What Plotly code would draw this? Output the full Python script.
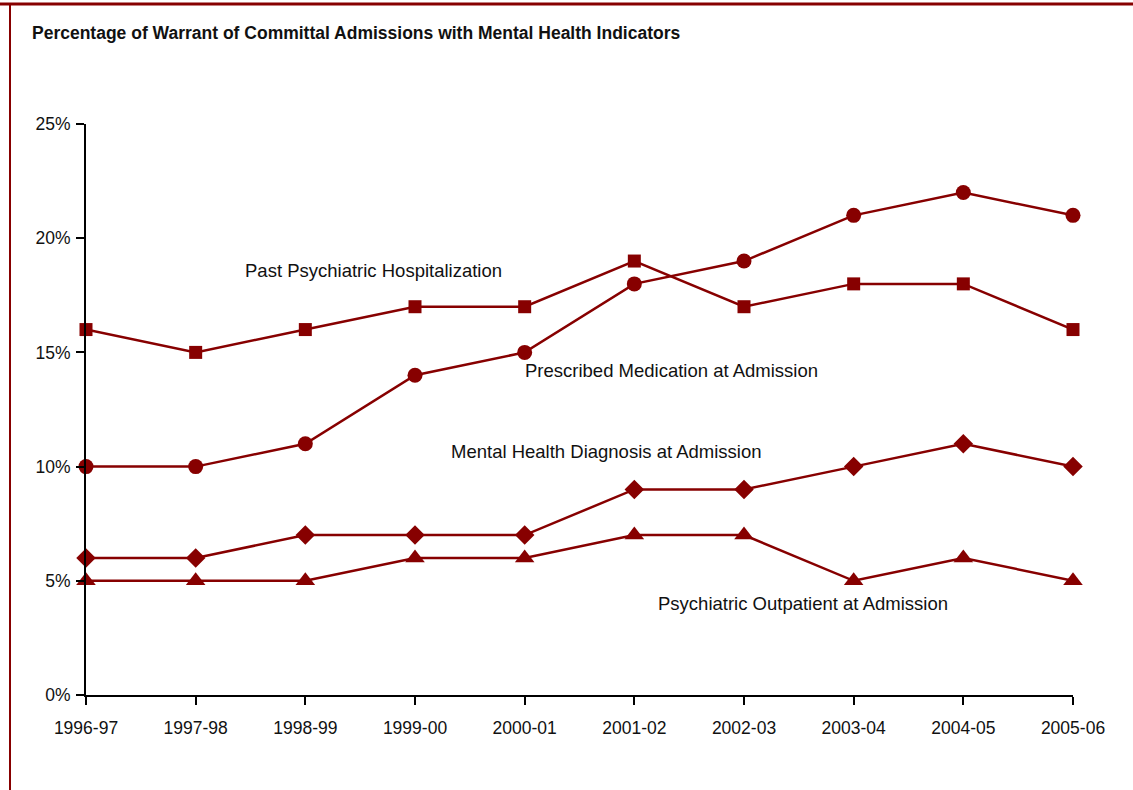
import plotly.graph_objects as go

years = ["1996-97", "1997-98", "1998-99", "1999-00", "2000-01",
         "2001-02", "2002-03", "2003-04", "2004-05", "2005-06"]
past_hosp = [16, 15, 16, 17, 17, 19, 17, 18, 18, 16]
prescribed_med = [10, 10, 11, 14, 15, 18, 19, 21, 22, 21]
mh_diagnosis = [6, 6, 7, 7, 7, 9, 9, 10, 11, 10]
outpatient = [5, 5, 5, 6, 6, 7, 7, 5, 6, 5]
y_ticks = [0, 5, 10, 15, 20, 25]
y_tick_labels = ["0%", "5%", "10%", "15%", "20%", "25%"]

RED = "#870000"
W, H = 1133, 790
ML, MR, MT, MB = 86, 60, 124, 95
pw = W - ML - MR
ph = H - MT - MB

x_idx = list(range(len(years)))

fig = go.Figure()
series = [
    ("Past Psychiatric Hospitalization", past_hosp, "square", 13),
    ("Prescribed Medication at Admission", prescribed_med, "circle", 15),
    ("Mental Health Diagnosis at Admission", mh_diagnosis, "diamond", 15),
    ("Psychiatric Outpatient at Admission", outpatient, "triangle-up", 17),
]
for name, vals, sym, sz in series:
    fig.add_trace(go.Scatter(
        x=x_idx, y=vals, mode="lines+markers", name=name,
        line=dict(color=RED, width=2.5),
        marker=dict(symbol=sym, size=sz, color=RED),
        cliponaxis=False,
    ))

ann_font = dict(family="Liberation Sans, Arial, sans-serif", size=18.5, color="#111111")
labels = [
    ("Past Psychiatric Hospitalization", 243, 270),
    ("Prescribed Medication at Admission", 523, 370),
    ("Mental Health Diagnosis at Admission", 449, 451),
    ("Psychiatric Outpatient at Admission", 656, 603),
]
annotations = []
for text, px, py in labels:
    annotations.append(dict(
        text=text, xref="paper", yref="paper",
        x=(px - ML) / pw, y=1 - (py - MT) / ph,
        xanchor="left", yanchor="middle", showarrow=False, font=ann_font,
    ))
annotations.append(dict(
    text="<b>Percentage of Warrant of Committal Admissions with Mental Health Indicators</b>",
    xref="paper", yref="paper",
    x=(30 - ML) / pw, y=1 - (33 - MT) / ph,
    xanchor="left", yanchor="middle", showarrow=False,
    font=dict(family="Liberation Sans Narrow, Arial Narrow, Liberation Sans, sans-serif", size=17.5, color="#111111"),
))

shapes = [
    dict(type="line", xref="paper", yref="paper",
         x0=(0 - ML) / pw, x1=(W - ML) / pw,
         y0=1 - (4 - MT) / ph, y1=1 - (4 - MT) / ph,
         line=dict(color=RED, width=3)),
    dict(type="line", xref="paper", yref="paper",
         x0=(10 - ML) / pw, x1=(10 - ML) / pw,
         y0=1 - (3 - MT) / ph, y1=1 - (H - MT) / ph,
         line=dict(color=RED, width=2)),
]

tick_font = dict(family="Liberation Sans Narrow, Arial Narrow, Liberation Sans, sans-serif", size=17.5, color="#111111")

fig.update_layout(
    width=W, height=H,
    margin=dict(l=ML, r=MR, t=MT, b=MB),
    paper_bgcolor="white", plot_bgcolor="white",
    showlegend=False,
    annotations=annotations,
    shapes=shapes,
    xaxis=dict(
        range=[0, 9], tickvals=x_idx, ticktext=years,
        showline=True, linecolor="black", linewidth=2,
        ticks="outside", ticklen=8, tickwidth=2, tickcolor="black",
        ticklabelstandoff=8,
        showgrid=False, zeroline=False, tickfont=tick_font,
    ),
    yaxis=dict(
        range=[0, 25], tickvals=y_ticks, ticktext=y_tick_labels,
        showline=True, linecolor="black", linewidth=2,
        ticks="outside", ticklen=8, tickwidth=2, tickcolor="black",
        ticklabelstandoff=2,
        showgrid=False, zeroline=False, tickfont=tick_font,
    ),
)

fig.write_html("out.html", config={"displayModeBar": False},
               post_script="document.body.style.margin='0';")
